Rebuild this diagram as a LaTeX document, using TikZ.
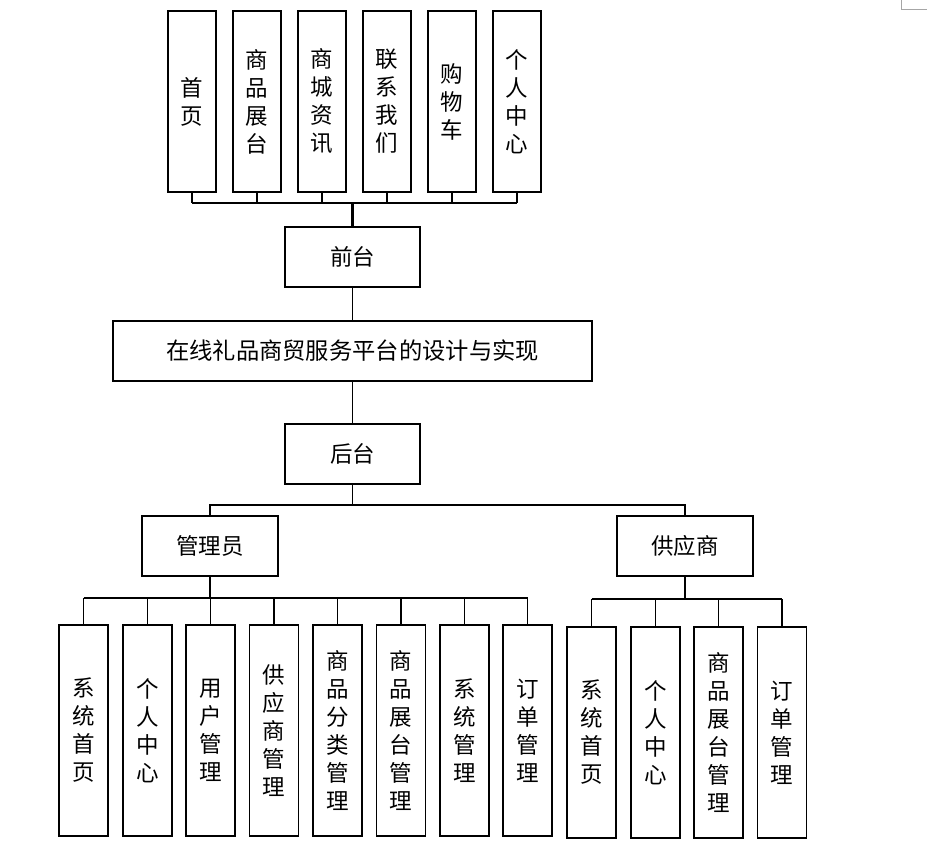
\documentclass[tikz,border=0pt]{standalone}
\usepackage{fontspec}
\newfontfamily\cjk{Noto Sans CJK SC}
\begin{document}
\begin{tikzpicture}[x=1pt,y=-1pt,
  box/.style={draw=black,line width=1.4pt,inner sep=0pt,align=center,
    font=\cjk\fontsize{22.5}{28}\selectfont},
  vbox/.style={box,minimum width=48pt,minimum height=181pt},
  lbox/.style={box,minimum width=49pt,minimum height=211pt},
  hbox/.style={box,minimum width=135pt,minimum height=60pt},
  ln/.style={line width=1.4pt},
  thk/.style={line width=2.4pt}]
\useasboundingbox (0,0) rectangle (927,851);
\draw[gray!70,line width=0.8pt] (901,0) -- (901,9) -- (927,9);
% top
\node[vbox] (t1) at (192,101.5) {首\\页};
\node[vbox] (t2) at (257,101.5) {商\\品\\展\\台};
\node[vbox] (t3) at (322,101.5) {商\\城\\资\\讯};
\node[vbox] (t4) at (387,101.5) {联\\系\\我\\们};
\node[vbox] (t5) at (452,101.5) {购\\物\\车};
\node[vbox] (t6) at (517,101.5) {个\\人\\中\\心};
\node[hbox] (qt) at (352.5,257) {前台};
\node[box,minimum width=479pt,minimum height=60pt,font=\cjk\fontsize{23.3}{28}\selectfont] (main) at (352.5,351) {在线礼品商贸服务平台的设计与实现};
\node[hbox] (ht) at (352.5,454) {后台};
\node[hbox,minimum width=136pt] (gly) at (210,546) {管理员};
\node[hbox,minimum width=136pt] (gys) at (685,546) {供应商};
% admin leaves
\node[lbox] (a1) at (83.5,730.5) {系\\统\\首\\页};
\node[lbox] (a2) at (147.5,730.5) {个\\人\\中\\心};
\node[lbox] (a3) at (210.5,730.5) {用\\户\\管\\理};
\node[lbox] (a4) at (274,730.5) {供\\应\\商\\管\\理};
\node[lbox] (a5) at (337.5,730.5) {商\\品\\分\\类\\管\\理};
\node[lbox] (a6) at (401,730.5) {商\\品\\展\\台\\管\\理};
\node[lbox] (a7) at (464.5,730.5) {系\\统\\管\\理};
\node[lbox] (a8) at (527.5,730.5) {订\\单\\管\\理};
% supplier leaves
\node[lbox] (s1) at (591.5,732.5) {系\\统\\首\\页};
\node[lbox] (s2) at (655.5,732.5) {个\\人\\中\\心};
\node[lbox] (s3) at (718.5,732.5) {商\\品\\展\\台\\管\\理};
\node[lbox] (s4) at (782,732.5) {订\\单\\管\\理};
% bar coordinates
\coordinate (tb) at (352.5,203);
\coordinate (hb) at (352.5,505);
\coordinate (ab) at (210,598);
\coordinate (sb) at (685,599);
% top connectors
\foreach \n in {t1,t2,t3,t4,t5,t6} \draw[ln] (\n.south) -- (\n.south |- tb);
\draw[ln] (t1.south |- tb) -- (t6.south |- tb);
\draw[thk] (tb) -- (qt.north);
\draw[ln] (qt.south) -- (main.north);
\draw[ln] (main.south) -- (ht.north);
\draw[ln] (ht.south) -- (hb);
\draw[ln] (gly.north) |- (hb) -| (gys.north);
% admin
\draw[thk] (gly.south) -- (ab);
\foreach \n in {a1,a2,a3,a4,a5,a6,a7,a8} \draw[ln] (\n.north) -- (\n.north |- ab);
\draw[ln] (a1.north |- ab) -- (a8.north |- ab);
\draw[thk] (ab) -- (a7.north |- ab);
% supplier
\draw[thk] (gys.south) -- (sb);
\foreach \n in {s1,s2,s3,s4} \draw[ln] (\n.north) -- (\n.north |- sb);
\draw[ln] (s1.north |- sb) -- (s4.north |- sb);
\end{tikzpicture}
\end{document}
